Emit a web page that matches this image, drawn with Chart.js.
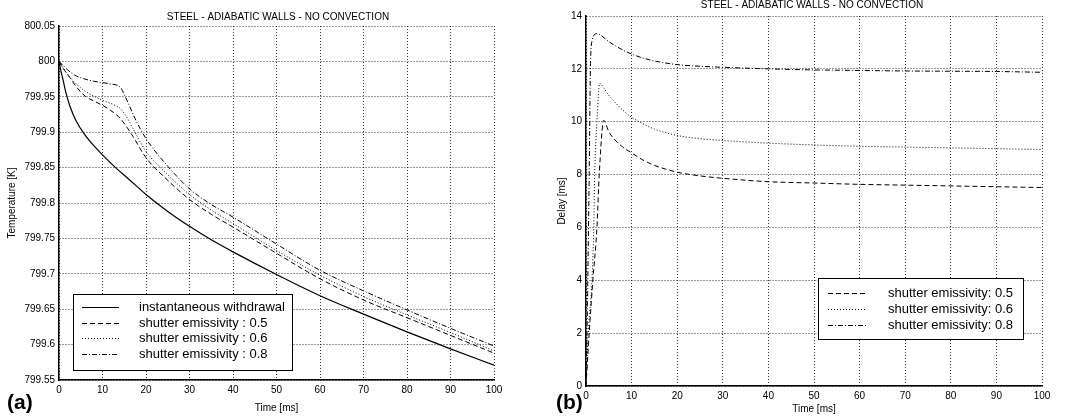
<!DOCTYPE html>
<html>
<head>
<meta charset="utf-8">
<script src="https://cdn.jsdelivr.net/npm/chart.js@4.4.1/dist/chart.umd.min.js"></script>
<style>
  body { margin:0; background:#fff; width:1067px; height:420px; overflow:hidden; position:relative; }
  canvas { position:absolute; top:0; }
  #chartTemp  { left:0; }
  #chartDelay { left:530px; }
</style>
</head>
<body>
<canvas id="chartTemp" width="530" height="420" style="width:530px;height:420px"></canvas>
<canvas id="chartDelay" width="537" height="420" style="width:537px;height:420px"></canvas>
<script>
// ---- data ----
const timeTicks  = [0,10,20,30,40,50,60,70,80,90,100];
const tempTicks  = [799.55,799.6,799.65,799.7,799.75,799.8,799.85,799.9,799.95,800,800.05];
const delayTicks = [0,2,4,6,8,10,12,14];

// (a) temperature [K] vs time [ms]
const tInst  = [0,0.5,1,1.5,2.5,4,6,8,10,13,16,20,25,30,35,40,50,60,70,80,90,100];
const vInst  = [800,799.985,799.972,799.958,799.937,799.915,799.896,799.881,799.868,799.850,799.834,799.812,799.788,799.767,799.748,799.731,799.699,799.669,799.643,799.618,799.594,799.571];
const tA05   = [0,1,2.5,4,6,8,10,12.5,14,15.5,17,20,25,30,35,40,50,60,70,80,90,100];
const vA05   = [800,799.99,799.977,799.964,799.951,799.944,799.938,799.928,799.920,799.908,799.894,799.864,799.832,799.805,799.784,799.766,799.729,799.693,799.663,799.638,799.613,799.588];
const tA06   = [0,1,2.5,4,6,8,10,12.5,14,15.5,17,20,25,30,35,40,50,60,70,80,90,100];
const vA06   = [800,799.99,799.978,799.968,799.958,799.951,799.945,799.939,799.934,799.922,799.905,799.873,799.840,799.812,799.790,799.771,799.733,799.698,799.668,799.642,799.617,799.591];
const tA08   = [0,1,2,3.5,6,8,10,12,13.5,14.3,15,16,17.5,20,25,30,35,40,50,60,70,80,90,100];
const vA08   = [800,799.994,799.988,799.981,799.975,799.972,799.970,799.968,799.966,799.962,799.953,799.940,799.919,799.891,799.852,799.820,799.798,799.780,799.742,799.705,799.676,799.649,799.623,799.598];

// (b) delay [ms] vs time [ms]
const tB05 = [0,0.7,1.5,2.4,2.9,3.9,5,6,8,10,12.5,15,20,25,30,40,50,60,70,80,90,100];
const dB05 = [0,2,4,6,8,10.05,9.62,9.38,9.05,8.82,8.55,8.35,8.09,7.95,7.86,7.73,7.68,7.63,7.6,7.57,7.54,7.51];
const tB06 = [0,0.5,1.3,1.7,1.9,2.4,3,4,5,6,8,10,12.5,15,20,25,30,40,50,60,70,80,90,100];
const dB06 = [0,2,4,6,8,10,11.45,11.25,11.0,10.8,10.45,10.17,9.92,9.72,9.48,9.36,9.29,9.19,9.12,9.07,9.04,9.01,8.98,8.95];
const tB08 = [0,0.35,0.7,1.0,1.4,2.3,3,4,5,6,8,10,12.5,15,20,25,30,40,50,60,70,80,90,100];
const dB08 = [0,3.5,8,12.3,13.1,13.33,13.3,13.17,13.03,12.92,12.72,12.56,12.41,12.3,12.16,12.1,12.06,12.0,11.96,11.94,11.92,11.91,11.9,11.87];

const FONT = '"Liberation Sans", Arial, Helvetica, sans-serif';
const DASH = [5,3], DOT = [1,2], DASHDOT = [5,2,1,2];

const pts = (xs, ys) => xs.map((x,i) => ({ x, y: ys[i] }));
const line = (label, xs, ys, dash, w) => ({
  label, data: pts(xs, ys), borderColor:'#000', borderWidth: w || 1,
  borderDash: dash, pointRadius:0, fill:false, cubicInterpolationMode:'monotone'
});

// titles, panel tag and boxed legend, drawn on top
const overlay = {
  id: 'overlay',
  afterDraw(chart, args, o) {
    const ctx = chart.ctx;
    ctx.save();
    ctx.fillStyle = '#000';
    ctx.font = '10px ' + FONT;
    ctx.textAlign = 'center';
    ctx.textBaseline = 'alphabetic';
    ctx.fillText(o.title, o.titleX, o.titleY);
    ctx.font = 'bold 21px ' + FONT;
    ctx.textAlign = 'left';
    ctx.fillText(o.tag, o.tagX, o.tagY);

    const b = o.box;
    ctx.fillStyle = '#fff';
    ctx.fillRect(b.x, b.y, b.w, b.h);
    ctx.strokeStyle = '#000';
    ctx.lineWidth = 1;
    ctx.strokeRect(b.x + .5, b.y + .5, b.w, b.h);
    ctx.font = '13px ' + FONT;
    ctx.textBaseline = 'middle';
    ctx.fillStyle = '#000';
    chart.data.datasets.forEach((ds, i) => {
      const y = Math.round(b.y + b.row0 + i * b.gap) + .5;
      ctx.setLineDash(ds.borderDash || []);
      ctx.beginPath();
      ctx.moveTo(b.x + b.l0, y);
      ctx.lineTo(b.x + b.l1, y);
      ctx.stroke();
      ctx.setLineDash([]);
      ctx.fillText(ds.label, b.x + b.tx, y);
    });
    ctx.restore();
  }
};

function axes(yMin, yMax, yTicks, yFmt, yTitle, yWidth, yTitlePad, xHeight, xTickPad, xTitlePad) {
  const grid = { color:'rgba(0,0,0,0.8)', lineWidth:1, drawTicks:false };
  const border = { color:'#000', width:1.5, dash:DOT };
  return {
    x: {
      type:'linear', min:0, max:100,
      afterBuildTicks: s => { s.ticks = timeTicks.map(v => ({ value:v })); },
      afterFit: s => { s.height = xHeight; },
      grid, border,
      ticks: { color:'#000', font:{ family:FONT, size:10 }, padding:xTickPad, maxRotation:0 },
      title: { display:true, text:'Time [ms]', color:'#000', font:{ family:FONT, size:10 }, padding:{ top:0, bottom:xTitlePad } }
    },
    y: {
      type:'linear', min:yMin, max:yMax,
      afterBuildTicks: s => { s.ticks = yTicks.map(v => ({ value:v })); },
      afterFit: s => { s.width = yWidth; },
      grid, border,
      ticks: { color:'#000', font:{ family:FONT, size:10 }, padding:4, callback: yFmt },
      title: { display:true, text:yTitle, color:'#000', font:{ family:FONT, size:10 }, padding:{ top:yTitlePad, bottom:0 } }
    }
  };
}

const common = {
  responsive:false, animation:false, devicePixelRatio:1,
  plugins:{ legend:{ display:false }, tooltip:{ enabled:false } },
  elements:{ point:{ radius:0 } }
};

new Chart(document.getElementById('chartTemp'), {
  type:'line',
  data:{ datasets:[
    line('instantaneous withdrawal', tInst, vInst, [], 1.2),
    line('shutter emissivity : 0.5', tA05, vA05, DASH),
    line('shutter emissivity : 0.6', tA06, vA06, DOT),
    line('shutter emissivity : 0.8', tA08, vA08, DASHDOT)
  ]},
  options:{ ...common,
    layout:{ padding:{ left:0, top:26, right:36, bottom:0 } },
    scales: axes(799.55, 800.05, tempTicks, v => String(+(+v).toFixed(2)), 'Temperature [K]', 59, 6, 40, 4, 6),
    plugins:{ ...common.plugins, overlay:{
      title:'STEEL - ADIABATIC WALLS - NO CONVECTION', titleX:278, titleY:19.5,
      tag:'(a)', tagX:7, tagY:409,
      box:{ x:73, y:294, w:219, h:76, row0:13, gap:15.5, l0:9, l1:46, tx:66 }
    }}
  },
  plugins:[overlay]
});

new Chart(document.getElementById('chartDelay'), {
  type:'line',
  data:{ datasets:[
    line('shutter emissivity: 0.5', tB05, dB05, DASH),
    line('shutter emissivity: 0.6', tB06, dB06, DOT),
    line('shutter emissivity: 0.8', tB08, dB08, DASHDOT)
  ]},
  options:{ ...common,
    layout:{ padding:{ left:0, top:16, right:25, bottom:0 } },
    scales: axes(0, 14, delayTicks, v => String(v), 'Delay [ms]', 56, 26, 34, 4, 5),
    plugins:{ ...common.plugins, overlay:{
      title:'STEEL - ADIABATIC WALLS - NO CONVECTION', titleX:282, titleY:7.5,
      tag:'(b)', tagX:26, tagY:409,
      box:{ x:288, y:278, w:205, h:61, row0:15, gap:16, l0:10, l1:48, tx:70 }
    }}
  },
  plugins:[overlay]
});
</script>
</body>
</html>
